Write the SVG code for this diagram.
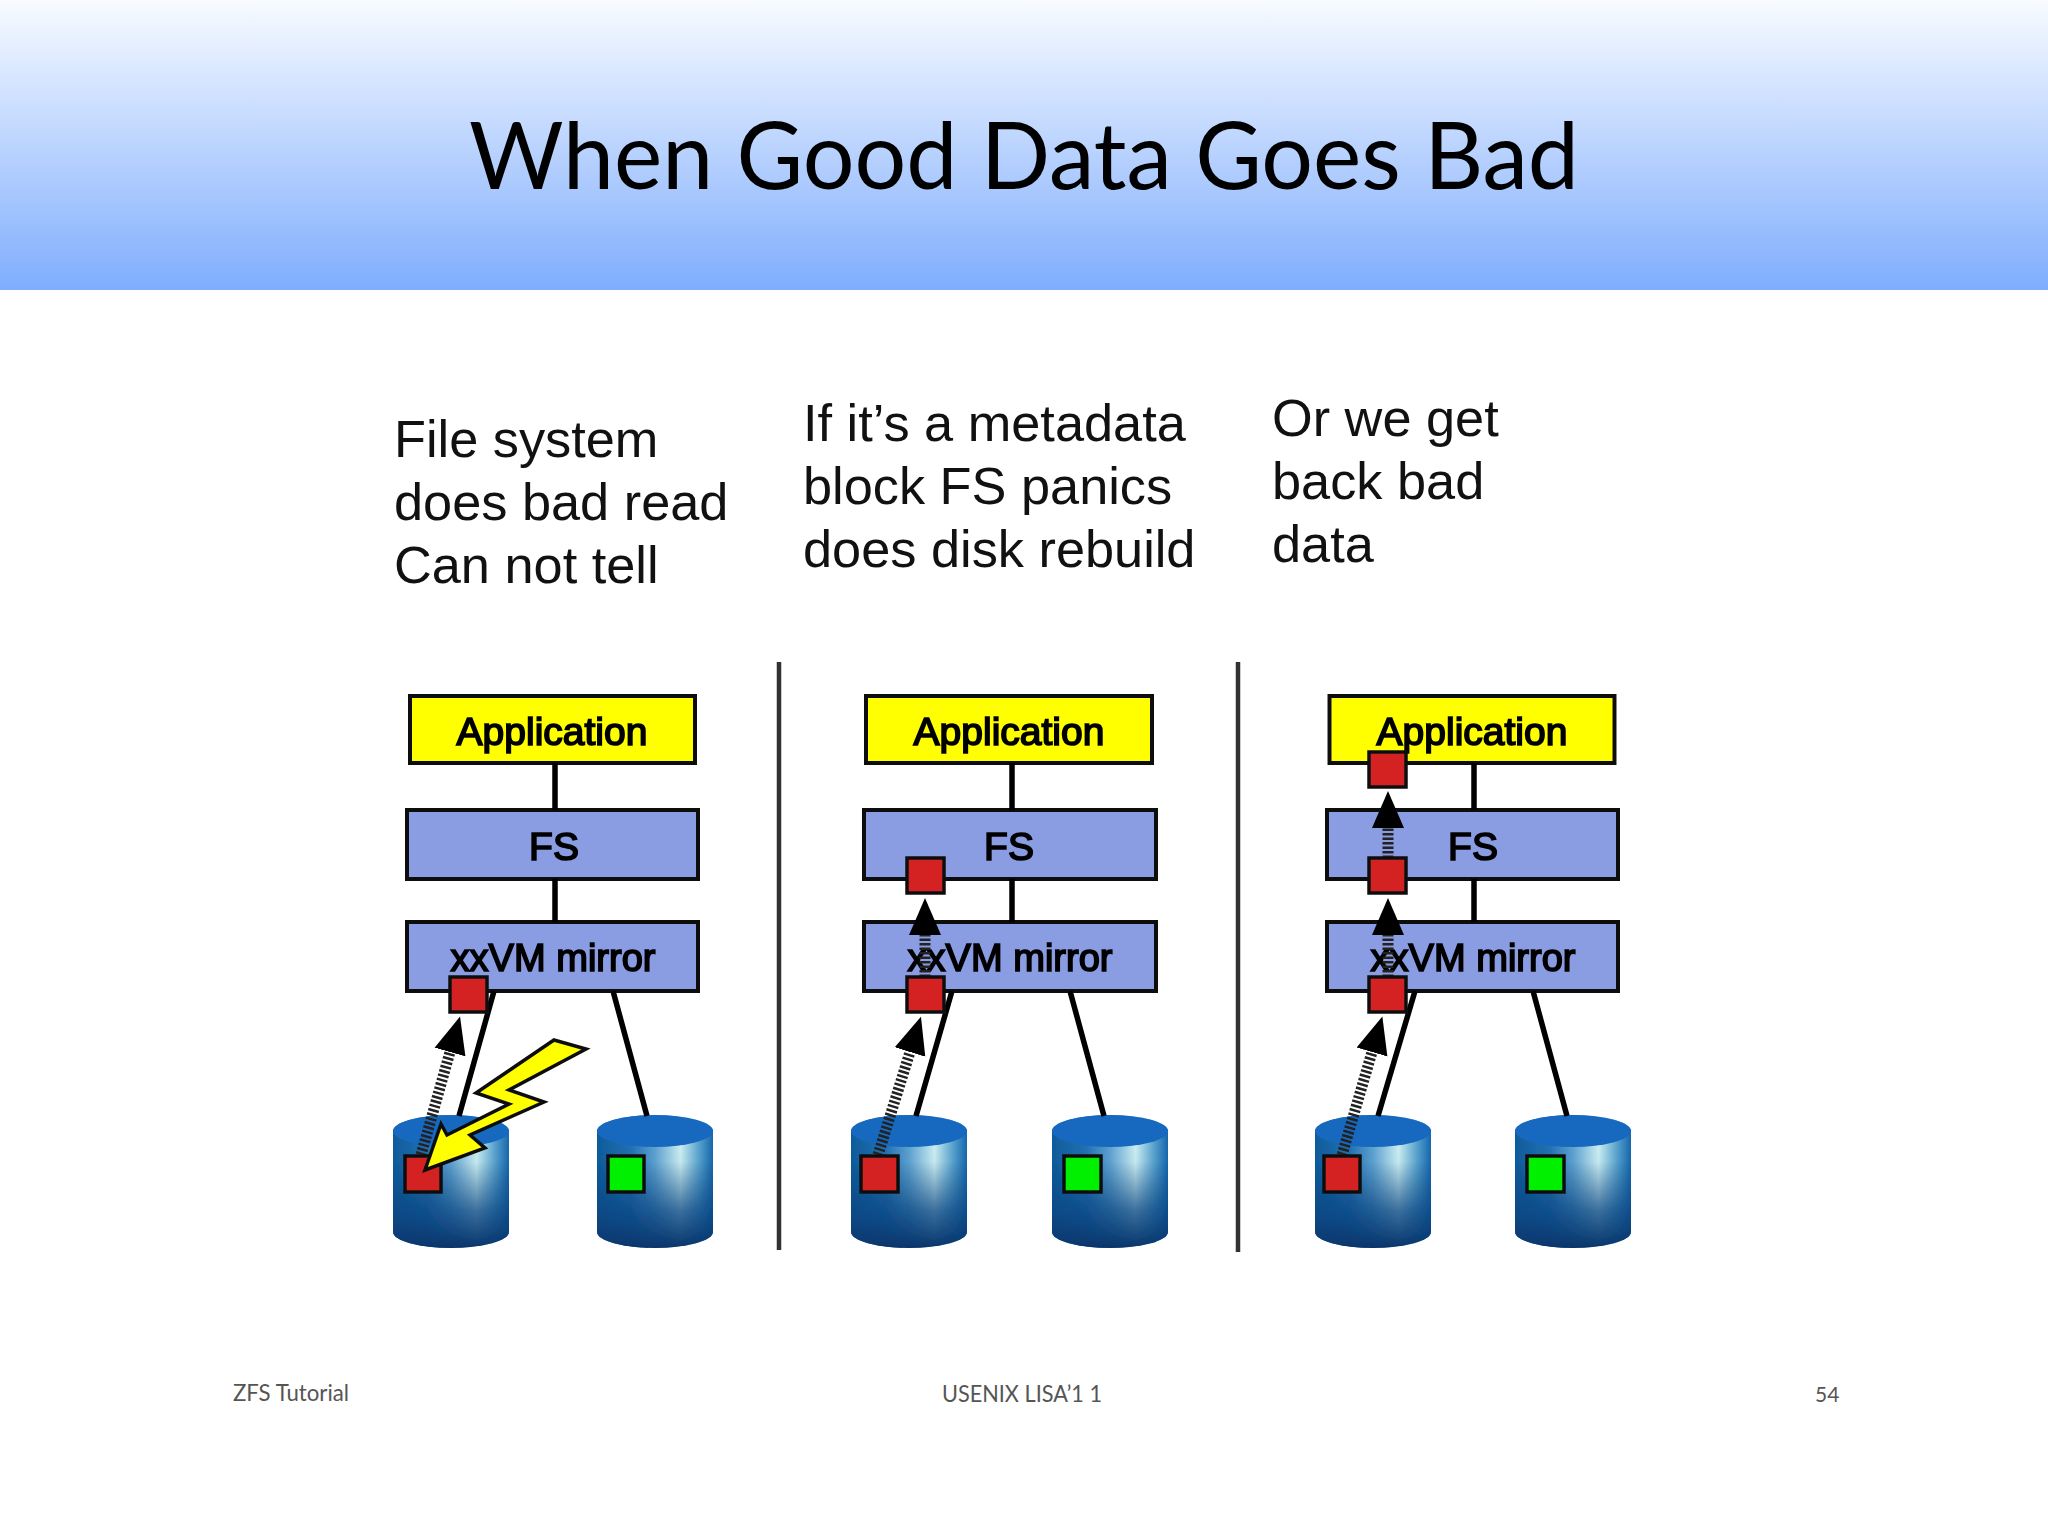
<svg xmlns="http://www.w3.org/2000/svg" xmlns:xlink="http://www.w3.org/1999/xlink" width="2048" height="1536" viewBox="0 0 2048 1536">
<style>
.body{font-family:"Liberation Sans",Arial,sans-serif;font-size:52.3px;fill:#111}
.title{font-family:Lato,"Noto Sans",sans-serif;font-size:94px;fill:#000}
.foot{font-family:Lato,"Noto Sans",sans-serif;font-size:23px;fill:#555}
.lbl{font-family:"Liberation Sans",Arial,sans-serif;font-size:39px;fill:#000;stroke:#000;stroke-width:1.7;text-anchor:middle}
.app{fill:#ffff00;stroke:#111;stroke-width:4}
.blk{fill:#8a9de3;stroke:#111;stroke-width:4}
.red{fill:#d42020;stroke:#111;stroke-width:3.5}
.grn{fill:#00f000;stroke:#111;stroke-width:3.5}
.ln{stroke:#000;stroke-width:5.5;fill:none}
.ar{stroke:#222;stroke-width:11;stroke-dasharray:2.5 2;fill:none;marker-end:url(#head)}
.sep{stroke:#333;stroke-width:4.5}
</style>
<defs>
<linearGradient id="hdr" x1="0" y1="0" x2="0" y2="1"><stop offset="0" stop-color="#f8fbff"/><stop offset="1" stop-color="#7fadfd"/></linearGradient>
<linearGradient id="dh" x1="0" y1="0" x2="1" y2="0"><stop offset="0" stop-color="#0f5c9c"/><stop offset=".3" stop-color="#2272b4"/><stop offset=".5" stop-color="#60a4d2"/><stop offset=".72" stop-color="#d0f2f4"/><stop offset=".88" stop-color="#5aa4d0"/><stop offset="1" stop-color="#1568ae"/></linearGradient>
<linearGradient id="dv" x1="0" y1="0" x2="0" y2="1"><stop offset="0" stop-color="#0a3f78" stop-opacity="0"/><stop offset=".35" stop-color="#0a3f78" stop-opacity=".05"/><stop offset=".72" stop-color="#0a4480" stop-opacity=".75"/><stop offset="1" stop-color="#06346a" stop-opacity="1"/></linearGradient>
<marker id="head" markerUnits="userSpaceOnUse" markerWidth="40" markerHeight="34" refX="0" refY="16" orient="auto" viewBox="0 0 40 32"><path d="M0,0 L37,16 L0,32 z" fill="#000"/></marker>
<filter id="soft" x="-2%" y="-2%" width="104%" height="104%"><feGaussianBlur stdDeviation="0.7"/></filter>
<g id="disk">
<path d="M0,16 A58,16 0 0 1 116,16 V117 A58,16 0 0 1 0,117 Z" fill="url(#dh)"/>
<path d="M0,16 A58,16 0 0 1 116,16 V117 A58,16 0 0 1 0,117 Z" fill="url(#dv)"/>
<ellipse cx="58" cy="16" rx="58" ry="16" fill="#1469bf"/>
</g>
</defs>
<rect id="header" x="0" y="0" width="2048" height="290" fill="url(#hdr)"/>
<text class="title" x="469" y="189" textLength="1110" lengthAdjust="spacingAndGlyphs">When Good Data Goes Bad</text>
<g id="caption1" class="body"><text x="394" y="457">File system</text><text x="394" y="520">does bad read</text><text x="394" y="583">Can not tell</text></g>
<g id="caption2" class="body"><text x="803" y="441">If it’s a metadata</text><text x="803" y="504">block FS panics</text><text x="803" y="567">does disk rebuild</text></g>
<g id="caption3" class="body"><text x="1272" y="436">Or we get</text><text x="1272" y="499">back bad</text><text x="1272" y="562">data</text></g>
<g filter="url(#soft)">
<line class="sep" x1="779" y1="662" x2="779" y2="1250"/>
<line class="sep" x1="1238" y1="662" x2="1238" y2="1252"/>
<g id="p1-app"><rect class="app" x="410" y="696" width="285" height="67"/><text class="lbl" x="552" y="745">Application</text></g>
<g id="p1-fs"><rect class="blk" x="407" y="810" width="291" height="69"/><text class="lbl" x="554" y="860">FS</text></g>
<g id="p1-vm"><rect class="blk" x="407" y="922" width="291" height="69"/><text class="lbl" x="553" y="971" textLength="205" lengthAdjust="spacingAndGlyphs">xxVM mirror</text></g>
<g id="p1-d1"><use xlink:href="#disk" x="393" y="1115"/></g>
<g id="p1-d2"><use xlink:href="#disk" x="597" y="1115"/></g>
<g id="p2-app"><rect class="app" x="866" y="696" width="286" height="67"/><text class="lbl" x="1009" y="745">Application</text></g>
<g id="p2-fs"><rect class="blk" x="864" y="810" width="292" height="69"/><text class="lbl" x="1009" y="860">FS</text></g>
<g id="p2-vm"><rect class="blk" x="864" y="922" width="292" height="69"/><text class="lbl" x="1010" y="971" textLength="205" lengthAdjust="spacingAndGlyphs">xxVM mirror</text></g>
<g id="p2-d1"><use xlink:href="#disk" x="851" y="1115"/></g>
<g id="p2-d2"><use xlink:href="#disk" x="1052" y="1115"/></g>
<g id="p3-app"><rect class="app" x="1329.500" y="696" width="285" height="67"/><text class="lbl" x="1472" y="745">Application</text></g>
<g id="p3-fs"><rect class="blk" x="1327" y="810" width="291" height="69"/><text class="lbl" x="1473" y="860">FS</text></g>
<g id="p3-vm"><rect class="blk" x="1327" y="922" width="291" height="69"/><text class="lbl" x="1473" y="971" textLength="205" lengthAdjust="spacingAndGlyphs">xxVM mirror</text></g>
<g id="p3-d1"><use xlink:href="#disk" x="1315" y="1115"/></g>
<g id="p3-d2"><use xlink:href="#disk" x="1515" y="1115"/></g>
<g id="connectors">
<path class="ln" d="M555,763V810M555,879V922M494,991L459,1116M613,991L647,1116"/>
<path class="ln" d="M1012,763V810M1012,879V922M952,991L916,1116M1070,991L1104,1116"/>
<path class="ln" d="M1474,763V810M1474,879V922M1415,991L1378,1116M1533,991L1567,1116"/>
<line class="ar" x1="421" y1="1155" x2="450" y2="1052"/>
<line class="ar" x1="878" y1="1155" x2="910" y2="1052"/>
<line class="ar" x1="1342" y1="1155" x2="1372" y2="1052"/>
<line class="ar" x1="925" y1="977" x2="925" y2="935"/>
<line class="ar" x1="1388" y1="977" x2="1388" y2="935"/>
<line class="ar" x1="1388" y1="858" x2="1388" y2="828"/>
</g>
<g id="p1-block-disk"><rect class="red" x="405" y="1156" width="36" height="36"/></g>
<g id="p1-block-vm"><rect class="red" x="450" y="977" width="37" height="35"/></g>
<g id="p1-good"><rect class="grn" x="608" y="1156" width="36" height="36"/></g>
<g id="p2-block-disk"><rect class="red" x="861" y="1156" width="37" height="36"/></g>
<g id="p2-block-vm"><rect class="red" x="907" y="977" width="37" height="35"/></g>
<g id="p2-block-fs"><rect class="red" x="907" y="858" width="37" height="35"/></g>
<g id="p2-good"><rect class="grn" x="1064" y="1156" width="37" height="36"/></g>
<g id="p3-block-disk"><rect class="red" x="1324" y="1156" width="36" height="36"/></g>
<g id="p3-block-vm"><rect class="red" x="1369" y="977" width="37" height="35"/></g>
<g id="p3-block-fs"><rect class="red" x="1369" y="858" width="37" height="35"/></g>
<g id="p3-block-app"><rect class="red" x="1369" y="752" width="37" height="35"/></g>
<g id="p3-good"><rect class="grn" x="1527" y="1156" width="37" height="36"/></g>
<polygon id="bolt" points="554,1040 586,1049 509,1090 544,1102 470,1135 485,1148 425,1170 441,1124 447,1135 509,1104 476,1093" fill="#ffff00" stroke="#111" stroke-width="3.5" stroke-linejoin="miter"/>
</g>
<g id="footer" class="foot"><text x="233" y="1401" textLength="116" lengthAdjust="spacingAndGlyphs">ZFS Tutorial</text><text x="942" y="1402" textLength="160" lengthAdjust="spacingAndGlyphs">USENIX LISA’1 1</text><text x="1815" y="1402" font-size="21">54</text></g>
</svg>
